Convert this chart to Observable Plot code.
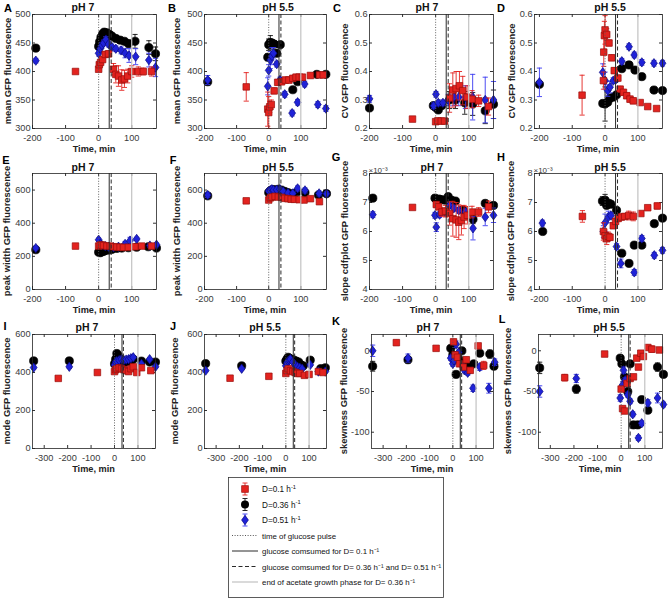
<!DOCTYPE html>
<html><head><meta charset="utf-8">
<script src="https://cdn.jsdelivr.net/npm/d3@7"></script>
<script src="https://cdn.jsdelivr.net/npm/@observablehq/plot@0.6"></script>
<style>
body{margin:0;background:#fff;font-family:"Liberation Sans",Arial,sans-serif;}
#root{position:relative;width:669px;height:600px;overflow:hidden;background:#fff;}
.abs{position:absolute;white-space:nowrap;transform:translate(-50%,-50%);line-height:1;}
.letter{font-weight:bold;font-size:11px;color:#000;}
.title{font-weight:bold;font-size:10.5px;color:#111;}
.ylab{font-weight:bold;font-size:9.4px;color:#222;transform:translate(-50%,-50%) rotate(-90deg);}
.xlab{font-weight:bold;font-size:9.2px;color:#222;}
.pl{position:absolute;}
</style></head><body><div id="root"></div>
<script>
// ---------------- data: [time (min), value, error] ----------------
const A_red=[[-70,400,3],[0,404,3],[2,412,4],[6,416,4],[12,421,4],[20,430,5],[30,431,5],[45,404,10],[52,395,15],[60,392,18],[70,385,18],[78,387,15],[88,392,12],[100,400,10],[120,400,8],[135,400,6],[160,400,8]];
const A_black=[[-190,441,4],[0,444,5],[3,452,5],[7,460,5],[12,466,5],[17,469,5],[25,468,5],[33,465,5],[40,462,5],[52,458,5],[65,455,5],[78,453,5],[90,449,6],[110,453,12],[152,442,12],[172,431,12]];
const A_blue=[[-190,419,4],[0,432,5],[5,440,5],[10,446,5],[15,450,5],[22,456,5],[30,448,5],[40,443,5],[52,440,5],[68,437,6],[80,432,8],[92,428,12],[112,426,14],[152,420,12],[172,407,16]];

const B_red=[[-70,373,25],[-3,334,30],[0,328,28],[3,338,10],[8,342,8],[17,366,5],[28,381,5],[40,382,5],[52,385,5],[63,385,5],[75,388,5],[85,390,5],[95,390,5],[105,390,5],[130,393,4],[158,394,4],[170,394,4]];
const B_black=[[-190,382,6],[-3,425,6],[0,447,10],[5,451,12],[10,450,6],[17,448,6],[25,432,6],[36,447,5],[75,368,4],[90,382,4],[150,395,4],[178,395,4]];
const B_blue=[[-190,385,8],[-3,374,15],[0,402,10],[5,420,15],[10,427,15],[15,432,10],[25,413,5],[35,385,5],[50,360,5],[73,327,5],[90,346,5],[112,378,5],[153,342,5],[178,335,5]];

const C_red=[[-70,0.233,0.004],[0,0.224,0.004],[7,0.227,0.004],[17,0.226,0.004],[27,0.226,0.004],[42,0.307,0.05],[52,0.335,0.06],[62,0.34,0.06],[72,0.35,0.05],[82,0.333,0.05],[95,0.31,0.04],[110,0.303,0.03],[130,0.297,0.02],[160,0.277,0.03]];
const C_black=[[-200,0.272,0.01],[-7,0.28,0.01],[0,0.274,0.01],[8,0.265,0.01],[18,0.28,0.01],[42,0.3,0.03],[60,0.3,0.03],[88,0.29,0.04],[112,0.286,0.04],[150,0.262,0.045],[175,0.285,0.05]];
const C_blue=[[-200,0.304,0.012],[-6,0.28,0.01],[1,0.32,0.01],[8,0.29,0.01],[22,0.29,0.01],[38,0.3,0.02],[55,0.31,0.03],[70,0.31,0.03],[90,0.31,0.04],[112,0.31,0.08],[150,0.3,0.08],[175,0.3,0.065]];

const D_red=[[-70,0.317,0.07],[-5,0.368,0.03],[-4,0.468,0.05],[-2,0.526,0.05],[0,0.546,0.05],[5,0.53,0.02],[12,0.5,0.01],[20,0.448,0.01],[28,0.403,0.01],[39,0.377,0.01],[46,0.338,0.01],[56,0.327,0.01],[66,0.315,0.01],[76,0.303,0.01],[86,0.297,0.01],[107,0.291,0.005],[130,0.277,0.005],[157,0.27,0.005]];
const D_black=[[-200,0.355,0.01],[-7,0.288,0.01],[0,0.286,0.06],[8,0.292,0.01],[15,0.306,0.01],[25,0.31,0.01],[35,0.318,0.01],[51,0.41,0.01],[73,0.423,0.01],[91,0.405,0.01],[112,0.382,0.01],[149,0.335,0.01],[175,0.333,0.01]];
const D_blue=[[-200,0.362,0.05],[-7,0.397,0.03],[0,0.368,0.03],[8,0.333,0.02],[15,0.345,0.02],[25,0.368,0.01],[35,0.374,0.01],[51,0.436,0.01],[73,0.487,0.01],[89,0.458,0.01],[112,0.432,0.01],[149,0.429,0.01],[175,0.429,0.01]];

const E_red=[[-70,262,4],[0,262,4],[5,268,4],[10,268,4],[15,265,4],[25,262,4],[35,262,4],[45,258,4],[55,256,4],[65,255,4],[75,254,4],[90,255,4],[110,258,4],[130,262,4],[160,262,4]];
const E_black=[[-190,240,8],[0,225,6],[5,222,5],[10,228,5],[15,230,5],[20,235,5],[30,238,5],[40,242,5],[55,248,5],[70,250,5],[90,252,5],[115,255,5],[150,258,6],[175,250,6]];
const E_blue=[[-190,250,10],[0,300,10],[5,275,6],[10,268,6],[20,262,6],[30,258,6],[45,255,6],[60,258,6],[80,275,15],[95,295,20],[115,305,10],[155,265,10],[175,270,10]];

const F_red=[[-70,535,5],[0,540,5],[5,553,5],[10,558,5],[20,562,5],[30,558,5],[40,556,5],[50,550,5],[60,548,5],[70,545,5],[80,544,5],[95,542,5],[110,540,5],[130,548,5],[158,530,5]];
const F_black=[[-190,565,10],[0,585,10],[5,595,8],[10,600,8],[15,603,8],[22,600,8],[30,605,8],[40,600,8],[50,592,8],[60,585,8],[75,578,8],[90,590,8],[113,585,8],[155,570,10],[180,578,10]];
const F_blue=[[-190,570,15],[0,595,10],[5,600,8],[10,605,8],[15,600,8],[25,602,8],[35,605,8],[45,592,8],[60,582,8],[75,580,8],[90,610,15],[113,598,15],[157,580,15],[180,578,12]];

const G_red=[[-70,6.83,0.05],[2,6.93,0.1],[9,6.85,0.1],[19,6.67,0.15],[30,6.7,0.2],[42,6.62,0.4],[52,6.44,0.6],[62,6.4,0.6],[70,6.32,0.6],[78,6.38,0.5],[86,6.5,0.4],[96,6.56,0.3],[110,6.67,0.2],[130,6.67,0.15],[160,6.85,0.2]];
const G_black=[[-190,7.15,0.05],[-2,7.15,0.1],[4,7.1,0.1],[10,7.12,0.1],[18,7.1,0.1],[28,7.08,0.1],[38,7.2,0.1],[48,7.08,0.1],[60,7.05,0.1],[82,6.75,0.1],[113,6.42,0.15],[150,6.97,0.1],[175,6.9,0.1]];
const G_blue=[[-190,6.58,0.1],[-2,6.56,0.1],[2,6.15,0.15],[12,6.58,0.1],[28,6.67,0.1],[42,6.9,0.1],[55,6.8,0.1],[70,6.73,0.1],[90,6.67,0.1],[113,6.11,0.4],[150,6.5,0.3],[175,6.56,0.25]];

const H_red=[[-69,6.52,0.2],[-5,6,0.3],[0,5.85,0.2],[5,5.75,0.2],[10,5.83,0.15],[15,5.8,0.1],[25,6.2,0.1],[32,6.35,0.1],[40,6.45,0.1],[50,6.5,0.1],[60,6.52,0.1],[72,6.55,0.15],[86,6.52,0.15],[109,6.62,0.05],[130,6.82,0.05],[159,6.88,0.1]];
const H_black=[[-190,6,0.05],[-8,7.05,0.15],[0,7.08,0.2],[5,6.9,0.1],[12,6.97,0.1],[18,6.94,0.1],[35,6.73,0.1],[51,5.25,0.1],[73,4.9,0.05],[89,5.53,0.05],[112,5.53,0.05],[150,6.27,0.05],[175,6.46,0.05]];
const H_blue=[[-191,6.29,0.1],[-5,6,0.2],[0,6.3,0.3],[10,6.5,0.2],[18,6.55,0.1],[35,5.48,0.1],[48,4.9,0.15],[89,4.59,0.1],[112,5.76,0.1],[150,5.18,0.1],[175,5.35,0.1]];

const I_red=[[-240,369,5],[-73,400,5],[0,405,5],[5,415,5],[10,420,5],[20,425,5],[30,420,5],[40,415,5],[50,410,5],[60,405,5],[70,420,5],[80,430,5],[95,400,5],[115,425,5],[155,410,5]];
const I_black=[[-345,461,8],[-193,461,8],[0,445,8],[5,470,8],[10,500,8],[15,490,8],[20,475,8],[28,465,8],[35,460,8],[45,455,8],[55,458,8],[70,462,8],[80,470,8],[115,460,8],[150,455,8],[175,455,8]];
const I_blue=[[-345,426,8],[-193,430,8],[0,440,6],[5,455,6],[10,460,6],[20,465,6],[30,470,6],[40,465,6],[50,468,6],[60,470,6],[70,475,6],[80,480,6],[115,445,6],[150,470,6],[175,430,6]];

const J_red=[[-240,370,5],[-73,380,5],[0,395,5],[5,410,5],[10,420,5],[20,410,5],[30,405,5],[40,400,5],[50,395,5],[60,395,5],[80,385,5],[100,390,5],[140,405,5],[160,400,5]];
const J_black=[[-345,447,8],[-190,435,8],[0,460,6],[5,470,6],[10,480,6],[15,475,6],[25,470,6],[35,465,6],[45,460,6],[55,455,6],[65,440,6],[75,435,6],[105,465,8],[150,420,6],[170,425,6]];
const J_blue=[[-345,410,6],[-190,420,6],[0,435,6],[5,450,6],[10,460,6],[15,465,6],[20,470,6],[30,455,6],[40,440,6],[50,430,6],[60,425,6],[70,420,6],[105,440,6],[140,405,6],[170,405,6]];

const K_red=[[-243,10,3],[-72,3,2],[3,11,3],[10,-5,3],[20,-8,3],[29,-16,3],[45,-20,3],[58,-11,3],[75,-24,3],[109,6,3],[133,-18,5]];
const K_black=[[-345,-19,6],[-193,-11,4],[-9,3,3],[0,-5,3],[8,-10,3],[14,-29,3],[25,-10,3],[39,0,3],[50,-15,3],[70,-20,3],[90,-16,3],[116,-3,3],[159,-4,5],[177,-19,3]];
const K_blue=[[-345,0,7],[-193,-9,5],[-9,-9,3],[0,-16,3],[5,-12,3],[14,8,4],[25,-2,3],[40,-18,3],[50,-24,3],[64,-27,3],[87,-46,4],[116,-20,4],[155,-46,6],[180,-14,4]];

const L_red=[[-239,-33,4],[-70,-4,2],[0,-47,3],[6,-71,3],[14,-74,3],[25,-40,3],[38,-34,3],[52,-32,3],[66,-9,3],[73,-20,3],[83,-3,3],[94,-7,3],[113,4,3],[130,2,4],[162,1,3]];
const L_black=[[-345,-21,7],[-190,-47,5],[-4,-9,3],[3,-16,3],[14,-32,3],[28,-50,4],[38,-16,3],[52,-91,4],[70,-91,4],[87,-60,3],[113,-73,3],[154,-20,5],[179,-29,3]];
const L_blue=[[-345,-50,7],[-190,-34,5],[-4,-58,4],[6,-42,4],[10,-24,4],[17,-36,3],[28,-54,3],[38,-62,3],[49,-78,3],[73,-107,3],[87,-89,3],[113,-64,4],[154,-58,6],[179,-66,3]];

// event times (min)
const EVENT_PULSE=0, EVENT_GLC_01=32, EVENT_GLC_036=38, EVENT_ACETATE=100;

// tick sets
const X_TICKS_TOP=[-200,-100,0,100];
const X_TICKS_BOTTOM=[-300,-200,-100,0,100];
const Y_TICKS_MEAN=[300,350,400,450,500];
const Y_TICKS_CV=[0.2,0.3,0.4,0.5,0.6];
const Y_TICKS_WIDTH=[0,200,400,600];
const Y_TICKS_SLOPE=[4,5,6,7,8];
const Y_TICKS_MODE=[0,200,400,600];
const Y_TICKS_SKEW=[-100,-50,0];

// ---------------- styling ----------------
const FILL={red:"#e3231f",black:"#000000",blue:"#1f22d8"};
const EDGE={red:"#9a0f0c",black:"#000000",blue:"#0a0a80"};
const ERR={red:"#e3231f",black:"#111111",blue:"#3a3af0"};
const R={red:3.7,black:4.1,blue:3.9};
const tallDiamond={draw(ctx,size){const r=Math.sqrt(size/Math.PI);const h=r*1.2,w=r*0.88;ctx.moveTo(0,-h);ctx.lineTo(w,0);ctx.lineTo(0,h);ctx.lineTo(-w,0);ctx.closePath();}};
const SYM={red:"square",black:"circle",blue:tallDiamond};

const panels=[
 {L:"A",title:"pH 7",yl:"mean GFP fluorescence",box:[32,14,124,114],x:[-200,175],xt:X_TICKS_TOP,y:[300,500],yt:Y_TICKS_MEAN,red:A_red,black:A_black,blue:A_blue,lp:[8,8],tx:83,ty:7,ylx:8},
 {L:"B",title:"pH 5.5",yl:"mean GFP fluorescence",box:[204,14,122,114],x:[-200,180],xt:X_TICKS_TOP,y:[300,500],yt:Y_TICKS_MEAN,red:B_red,black:B_black,blue:B_blue,lp:[172,8],tx:278,ty:7,ylx:177},
 {L:"C",title:"pH 7",yl:"CV GFP fluorescence",box:[369,14,124,114],x:[-200,175],xt:X_TICKS_TOP,y:[0.2,0.6],yt:Y_TICKS_CV,red:C_red,black:C_black,blue:C_blue,lp:[337,8],tx:427,ty:7,ylx:345},
 {L:"D",title:"pH 5.5",yl:"CV GFP fluorescence",box:[534,14,128,114],x:[-215,175],xt:X_TICKS_TOP,y:[0.2,0.6],yt:Y_TICKS_CV,red:D_red,black:D_black,blue:D_blue,lp:[501,8],tx:610,ty:7,ylx:512},
 {L:"E",title:"pH 7",yl:"peak width GFP fluorescence",box:[32,173,124,116],x:[-200,175],xt:X_TICKS_TOP,y:[0,700],yt:Y_TICKS_WIDTH,red:E_red,black:E_black,blue:E_blue,lp:[6,160],tx:83,ty:167,ylx:7},
 {L:"F",title:"pH 5.5",yl:"peak width GFP fluorescence",box:[204,173,122,116],x:[-200,180],xt:X_TICKS_TOP,y:[0,700],yt:Y_TICKS_WIDTH,red:F_red,black:F_black,blue:F_blue,lp:[173,160],tx:278,ty:167,ylx:177},
 {L:"G",title:"pH 7",yl:"slope cdfplot GFP fluorescence",box:[369,173,124,116],x:[-200,175],xt:X_TICKS_TOP,y:[4,8],yt:Y_TICKS_SLOPE,red:G_red,black:G_black,blue:G_blue,lp:[336,157],tx:432,ty:167,ylx:345,exp:true},
 {L:"H",title:"pH 5.5",yl:"slope cdfplot GFP fluorescence",box:[534,173,128,116],x:[-215,175],xt:X_TICKS_TOP,y:[4,8],yt:Y_TICKS_SLOPE,red:H_red,black:H_black,blue:H_blue,lp:[501,157],tx:610,ty:167,ylx:511,exp:true},
 {L:"I",title:"pH 7",yl:"mode GFP fluorescence",box:[32,334,123,114],x:[-350,175],xt:X_TICKS_BOTTOM,y:[0,600],yt:Y_TICKS_MODE,red:I_red,black:I_black,blue:I_blue,lp:[5,326],tx:87,ty:327,ylx:7},
 {L:"J",title:"pH 5.5",yl:"mode GFP fluorescence",box:[204,334,122,114],x:[-350,175],xt:X_TICKS_BOTTOM,y:[0,600],yt:Y_TICKS_MODE,red:J_red,black:J_black,blue:J_blue,lp:[173,326],tx:265,ty:327,ylx:175},
 {L:"K",title:"pH 7",yl:"skewness GFP fluorescence",box:[371,334,122,114],x:[-350,175],xt:X_TICKS_BOTTOM,y:[-120,20],yt:Y_TICKS_SKEW,red:K_red,black:K_black,blue:K_blue,lp:[336,321],tx:428,ty:327,ylx:344},
 {L:"L",title:"pH 5.5",yl:"skewness GFP fluorescence",box:[538,334,124,114],x:[-350,175],xt:X_TICKS_BOTTOM,y:[-120,20],yt:Y_TICKS_SKEW,red:L_red,black:L_black,blue:L_blue,lp:[502,319],tx:609,ty:327,ylx:508}
];

const root=document.getElementById("root");
function addText(cls,txt,x,y){const d=document.createElement("div");d.className="abs "+cls;d.textContent=txt;d.style.left=x+"px";d.style.top=y+"px";root.appendChild(d);return d;}

function makePanel(p){
  const [bx,by,bw,bh]=p.box;
  const ml=30,mr=8,mt=12,mb=18;
  const kx=bw/(p.x[1]-p.x[0]), ky=bh/(p.y[1]-p.y[0]);
  const cap=2.6/kx, tyl=3/ky, txl=3/kx;
  const marks=[];
  marks.push(Plot.ruleX(p.xt,{y1:p.y[0],y2:p.y[0]+tyl,stroke:"#333"}));
  marks.push(Plot.ruleX(p.xt,{y1:p.y[1],y2:p.y[1]-tyl,stroke:"#333"}));
  marks.push(Plot.ruleY(p.yt,{x1:p.x[0],x2:p.x[0]+txl,stroke:"#333"}));
  marks.push(Plot.ruleY(p.yt,{x1:p.x[1],x2:p.x[1]-txl,stroke:"#333"}));
  for(const s of ["black","blue","red"]){
    const rows=p[s].map(([t,v,e])=>({t,v,e:e||0}));
    const we=rows.filter(d=>d.e>0);
    marks.push(Plot.ruleX(we,{x:"t",y1:d=>d.v-d.e,y2:d=>d.v+d.e,stroke:ERR[s],strokeWidth:0.9}));
    marks.push(Plot.link(we,{x1:d=>d.t-cap,x2:d=>d.t+cap,y1:d=>d.v+d.e,y2:d=>d.v+d.e,stroke:ERR[s],strokeWidth:0.9}));
    marks.push(Plot.link(we,{x1:d=>d.t-cap,x2:d=>d.t+cap,y1:d=>d.v-d.e,y2:d=>d.v-d.e,stroke:ERR[s],strokeWidth:0.9}));
    marks.push(Plot.dot(rows,{x:"t",y:"v",symbol:SYM[s],r:R[s],fill:FILL[s],stroke:EDGE[s],strokeWidth:0.7}));
  }
  marks.push(Plot.ruleX([EVENT_PULSE],{stroke:"#555",strokeDasharray:"1,1.6",strokeWidth:0.9}));
  marks.push(Plot.ruleX([EVENT_ACETATE],{stroke:"#c2c2c2",strokeWidth:1.2}));
  marks.push(Plot.ruleX([EVENT_GLC_01],{stroke:"#2a2a2a",strokeWidth:1}));
  marks.push(Plot.ruleX([EVENT_GLC_036],{stroke:"#2a2a2a",strokeDasharray:"4,2.5",strokeWidth:1}));
  marks.push(Plot.frame({stroke:"#262626",strokeWidth:0.8}));
  marks.push(Plot.axisX({ticks:p.xt,tickSize:0,tickPadding:6,fontSize:9.2,tickFormat:d=>String(d),fill:"#3a3a3a"}));
  marks.push(Plot.axisY({ticks:p.yt,tickSize:0,tickPadding:2,fontSize:9.2,tickFormat:d=>String(d),fill:"#3a3a3a"}));
  if(p.exp) marks.push(Plot.text(["×10⁻³"],{frameAnchor:"top-left",dy:-6,dx:-1,textAnchor:"start",fontSize:8,fill:"#3a3a3a"}));
  const svg=Plot.plot({width:bw+ml+mr,height:bh+mt+mb,marginLeft:ml,marginRight:mr,marginTop:mt,marginBottom:mb,
    x:{domain:p.x,label:null},y:{domain:p.y,label:null},marks,
    style:{background:"transparent",fontFamily:"'Liberation Sans',Arial,sans-serif",fontSize:"9.2px",overflow:"visible",maxWidth:"none"}});
  const wrap=document.createElement("div");wrap.className="pl";wrap.style.left=(bx-ml)+"px";wrap.style.top=(by-mt)+"px";
  wrap.appendChild(svg);root.appendChild(wrap);
  addText("letter",p.L,p.lp[0],p.lp[1]);
  addText("title",p.title,p.tx,p.ty);
  addText("ylab",p.yl,p.ylx,by+bh/2);
  addText("xlab","Time, min",bx+bw/2,by+bh+22);
}
panels.forEach(makePanel);

// ---------------- legend ----------------
const LEG_SERIES=[["red","D=0.1 h","-1"],["black","D=0.36 h","-1"],["blue","D=0.51 h","-1"]];
const LEG_LINES=[["pulse","time of glucose pulse"],["glc01","glucose comsumed for D= 0.1 h⁻¹"],["glc036","glucose comsumed for D= 0.36 h⁻¹ and D= 0.51 h⁻¹"],["acetate","end of acetate growth phase for D= 0.36 h⁻¹"]];
(function(){
  const ns="http://www.w3.org/2000/svg";
  const W=216,H=121;
  const svg=document.createElementNS(ns,"svg");svg.setAttribute("width",W);svg.setAttribute("height",H);
  svg.style.position="absolute";svg.style.left="228px";svg.style.top="477px";
  svg.setAttribute("font-family","'Liberation Sans',Arial,sans-serif");
  const el=(t,a,p)=>{const e=document.createElementNS(ns,t);for(const k in a)e.setAttribute(k,a[k]);(p||svg).appendChild(e);return e;};
  el("rect",{x:0.5,y:0.5,width:W-1,height:H-1,fill:"#fff",stroke:"#333","stroke-width":0.8});
  const rowY=i=>12+i*15.5;
  const gx=17, tx=34;
  LEG_SERIES.forEach(([s,lab],i)=>{
    const y=rowY(i);
    el("line",{x1:gx,x2:gx,y1:y-6,y2:y+6,stroke:ERR[s],"stroke-width":0.9});
    el("line",{x1:gx-2.5,x2:gx+2.5,y1:y-6,y2:y-6,stroke:ERR[s],"stroke-width":0.9});
    el("line",{x1:gx-2.5,x2:gx+2.5,y1:y+6,y2:y+6,stroke:ERR[s],"stroke-width":0.9});
    if(s==="red") el("rect",{x:gx-3.3,y:y-3.3,width:6.6,height:6.6,fill:FILL[s],stroke:EDGE[s],"stroke-width":0.7});
    if(s==="black") el("circle",{cx:gx,cy:y,r:4,fill:FILL[s]});
    if(s==="blue") el("path",{d:`M${gx},${y-4.7}L${gx+3.4},${y}L${gx},${y+4.7}L${gx-3.4},${y}Z`,fill:FILL[s],stroke:EDGE[s],"stroke-width":0.7});
    const t=el("text",{x:tx,y:y+3,"font-size":8.2,fill:"#111"});
    t.appendChild(document.createTextNode(lab));
    const sup=el("tspan",{"font-size":5.8,dy:-3.5},t);sup.textContent="-1";
  });
  const styles={pulse:{stroke:"#555","stroke-dasharray":"1,1.6"},glc01:{stroke:"#2a2a2a"},glc036:{stroke:"#2a2a2a","stroke-dasharray":"4,2.5"},acetate:{stroke:"#c2c2c2","stroke-width":1.2}};
  LEG_LINES.forEach(([k,lab],j)=>{
    const y=rowY(j+3);
    el("line",Object.assign({x1:4,x2:30,y1:y,y2:y,"stroke-width":1},styles[k]));
    const t=el("text",{x:tx,y:y+3,"font-size":7.9,fill:"#111"});t.textContent=lab;
  });
  root.appendChild(svg);
})();
</script></body></html>
